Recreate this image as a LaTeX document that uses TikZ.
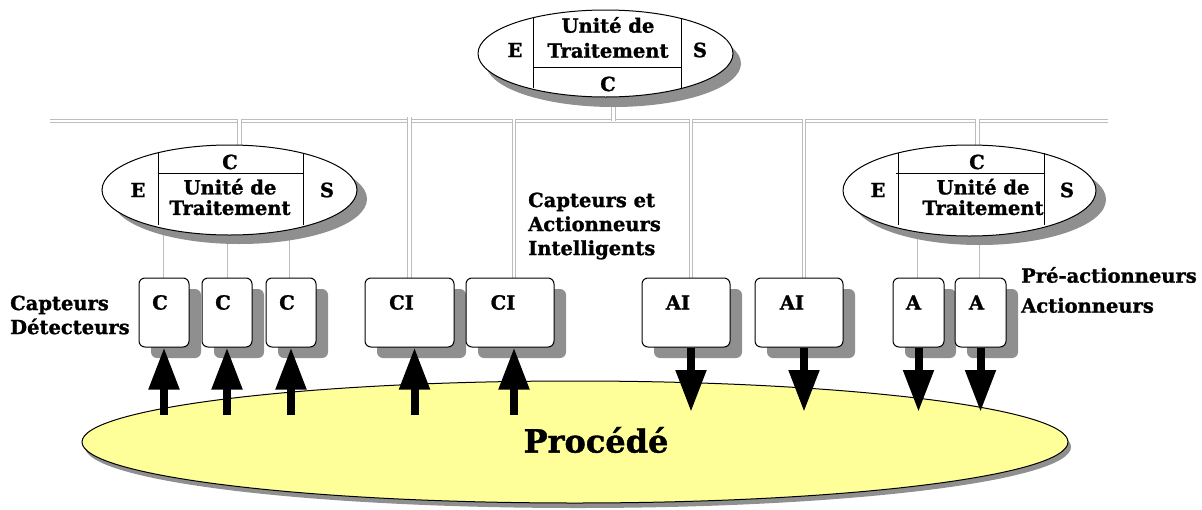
\documentclass[tikz,border=0pt]{standalone}
\usepackage{fontspec}
\setmainfont[BoldFeatures={FakeBold=1.2}]{DejaVu Serif}
\usetikzlibrary{shapes.geometric,shadows,arrows.meta,calc}
\definecolor{shgray}{HTML}{8F8F8F}
\definecolor{busgray}{HTML}{BDBDBD}
\definecolor{procyellow}{HTML}{FFFF99}
\pgfdeclarelayer{bg}
\pgfsetlayers{bg,main}
\tikzset{
  lbl/.style={font=\fontsize{19.5}{22}\selectfont\bfseries, inner sep=0pt},
  unit/.style={ellipse, draw=black, line width=1pt, fill=white, inner sep=0pt},
  topshadow/.style={drop shadow={shadow xshift=8pt, shadow yshift=-10pt, fill=shgray, opacity=1}},
  sideshadow/.style={drop shadow={shadow xshift=10pt, shadow yshift=-9pt, fill=shgray, opacity=1}},
  dev/.style={rectangle, rounded corners=6pt, draw=black, line width=1pt, fill=white,
    minimum height=69, inner sep=0pt,
    drop shadow={shadow xshift=12pt, shadow yshift=-11pt, fill=shgray, opacity=1}},
  bus/.style={draw=busgray, double=white, double distance=2.4pt, line width=0.9pt},
  wire/.style={draw=busgray, line width=1pt},
  div/.style={draw=black, line width=1pt},
  bigarrow/.style={line width=8pt, -{Triangle[width=29pt,length=42pt]}},
}
\begin{document}
\begin{tikzpicture}[x=1pt,y=-1pt]
\useasboundingbox (0,0) rectangle (1202,509);

% process
\node[ellipse, draw=black, line width=1pt, fill=procyellow, minimum width=986, minimum height=122,
  drop shadow={shadow xshift=3pt, shadow yshift=-5pt, fill=shgray, opacity=1}] (proc) at (575,442) {};
\node[lbl, font=\fontsize{32}{34}\selectfont\bfseries] (proctxt) at (596,440) {Procédé};

% processing units
\node[unit, topshadow, minimum width=255, minimum height=87] (ut) at (605.5,53.5) {};
\node[unit, sideshadow, minimum width=255, minimum height=90] (ue1) at (229.5,190) {};
\node[unit, sideshadow, minimum width=253, minimum height=91] (ue2) at (969.5,190.5) {};

% dividers
\draw[div] (533,18) -- (533,88) (681,18) -- (681,88) (533,67) -- (681,67);
\draw[div] (158,153) -- (158,225) (303,153) -- (303,225) (158,173) -- (303,173);
\draw[div] (898,153) -- (898,225) (1044,153) -- (1044,225) (896,173) -- (1044,173);

% unit labels
\node[lbl] (utE) at (515,50) {E};
\node[lbl] (utS) at (700,50) {S};
\node[lbl] (utC) at (608,84) {C};
\node[lbl, align=center, font=\fontsize{19.5}{25}\selectfont\bfseries] (utT) at (608,37.5) {Unité de\\Traitement};

\node[lbl] (ue1E) at (138,190) {E};
\node[lbl] (ue1S) at (327,190) {S};
\node[lbl] (ue1C) at (230,162) {C};
\node[lbl, align=center, font=\fontsize{19.5}{20.5}\selectfont\bfseries] (ue1T) at (230,197) {Unité de\\Traitement};

\node[lbl] (ue2E) at (878,190) {E};
\node[lbl] (ue2S) at (1067,190) {S};
\node[lbl] (ue2C) at (977,162) {C};
\node[lbl, align=center, font=\fontsize{19.5}{20.5}\selectfont\bfseries] (ue2T) at (983,197) {Unité de\\Traitement};

% devices
\node[dev, minimum width=50] (c1) at (164,312.5) {};
\node[dev, minimum width=50] (c2) at (227,312.5) {};
\node[dev, minimum width=50] (c3) at (291,312.5) {};
\node[dev, minimum width=89] (ci1) at (409.5,312.5) {};
\node[dev, minimum width=88] (ci2) at (510,312.5) {};
\node[dev, minimum width=88] (ai1) at (686,312.5) {};
\node[dev, minimum width=88] (ai2) at (799,312.5) {};
\node[dev, minimum width=51] (a1) at (918.5,312.5) {};
\node[dev, minimum width=51] (a2) at (980.5,312.5) {};

\node[lbl] (c1t) at ($(c1.north)+(-4,25)$) {C};
\node[lbl] (c2t) at ($(c2.north)+(-4,25)$) {C};
\node[lbl] (c3t) at ($(c3.north)+(-4,25)$) {C};
\node[lbl] (ci1t) at ($(ci1.north)+(-8,25)$) {CI};
\node[lbl] (ci2t) at ($(ci2.north)+(-7,25)$) {CI};
\node[lbl] (ai1t) at ($(ai1.north)+(-8,25)$) {AI};
\node[lbl] (ai2t) at ($(ai2.north)+(-7,25)$) {AI};
\node[lbl] (a1t) at ($(a1.north)+(-5,25)$) {A};
\node[lbl] (a2t) at ($(a2.north)+(-4,25)$) {A};

% side texts
\node[lbl, align=left, anchor=west, font=\fontsize{19.5}{24}\selectfont\bfseries] (capdet) at (10,315) {Capteurs\\Détecteurs};
\node[lbl, align=left, anchor=west, font=\fontsize{19.5}{24}\selectfont\bfseries] (cai) at (528,226) {Capteurs et\\Actionneurs\\Intelligents};
\node[lbl, align=left, anchor=west, font=\fontsize{19.5}{30}\selectfont\bfseries] (preact) at (1021,290) {Pré-actionneurs\\Actionneurs};

% bus and wires
\coordinate (busL) at (50,121);
\coordinate (busR) at (1108,121);
\begin{pgfonlayer}{bg}
\draw[bus] (busL) -- (busR);
\draw[bus] ([xshift=8pt]ut.south) -- ([xshift=8pt]ut.south |- busL);
\draw[bus] ([xshift=10pt]ue1.north) -- ([xshift=10pt,yshift=2pt]ue1.north |- busL);
\draw[bus] ([xshift=8pt]ue2.north) -- ([xshift=8pt,yshift=2pt]ue2.north |- busL);
\draw[bus] (ci1.north) -- ([yshift=4pt]ci1.north |- busL);
\draw[bus] ([xshift=4pt]ci2.north) -- ([xshift=4pt,yshift=2pt]ci2.north |- busL);
\draw[bus] ([xshift=5pt]ai1.north) -- ([xshift=5pt,yshift=2pt]ai1.north |- busL);
\draw[bus] ([xshift=5pt]ai2.north) -- ([xshift=5pt,yshift=2pt]ai2.north |- busL);
\draw[wire] ([xshift=-1pt]c1.north) -- ([xshift=-1pt]c1.north |- ue1.center);
\draw[wire] (c2.north) -- (c2.north |- ue1.center);
\draw[wire] ([xshift=-2pt]c3.north) -- ([xshift=-2pt]c3.north |- ue1.center);
\draw[wire] ([xshift=-1.5pt]a1.north) -- ([xshift=-1.5pt]a1.north |- ue2.center);
\draw[wire] ([xshift=-1.5pt]a2.north) -- ([xshift=-1.5pt]a2.north |- ue2.center);
\end{pgfonlayer}

% arrows
\coordinate (upbase) at (0,415);
\coordinate (dntip) at (0,412);
\draw[bigarrow] (c1.south |- upbase) -- (c1.south);
\draw[bigarrow] (c2.south |- upbase) -- (c2.south);
\draw[bigarrow] (c3.south |- upbase) -- (c3.south);
\draw[bigarrow] ([xshift=5pt]ci1.south |- upbase) -- ([xshift=5pt]ci1.south);
\draw[bigarrow] ([xshift=4pt]ci2.south |- upbase) -- ([xshift=4pt]ci2.south);
\draw[bigarrow] ([xshift=5pt]ai1.south) -- ([xshift=5pt]ai1.south |- dntip);
\draw[bigarrow] ([xshift=5pt]ai2.south) -- ([xshift=5pt]ai2.south |- dntip);
\draw[bigarrow] (a1.south) -- (a1.south |- dntip);
\draw[bigarrow] (a2.south) -- (a2.south |- dntip);
\end{tikzpicture}
\end{document}
